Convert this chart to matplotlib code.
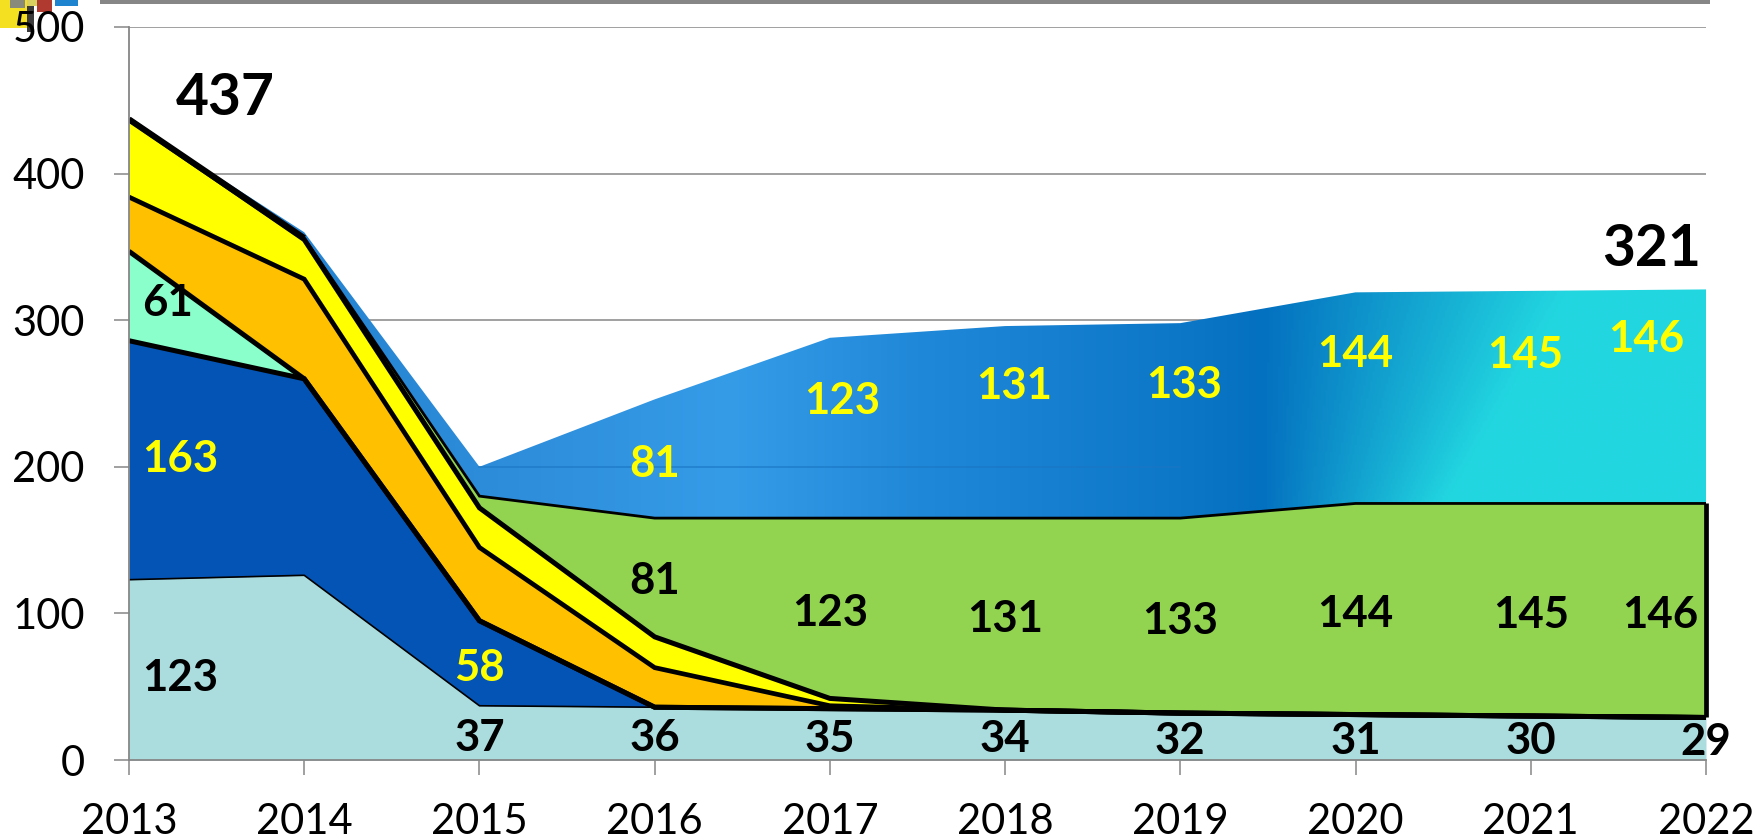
#!/usr/bin/env python3
"""Stacked area chart 2013-2022 with gradient top layer"""

import matplotlib
matplotlib.use('Agg')
import matplotlib.pyplot as plt
import matplotlib.patches as mpatches
from matplotlib.colors import LinearSegmentedColormap
import numpy as np

plt.rcParams['font.family'] = ['Lato', 'DejaVu Sans']

years = [2013, 2014, 2015, 2016, 2017, 2018, 2019, 2020, 2021, 2022]
teal = [123, 126, 37, 36, 35, 34, 32, 31, 30, 29]
navy = [163, 134, 58, 0, 0, 0, 0, 0, 0, 0]
mint = [61, 0, 0, 0, 0, 0, 0, 0, 0, 0]
orange = [37, 68, 50, 27, 2, 0, 0, 0, 0, 0]
yellow = [53, 27, 27, 21, 5, 0, 0, 0, 0, 0]
green = [0, 1, 8, 81, 123, 131, 133, 144, 145, 146]
blue = [0, 4, 20, 81, 123, 131, 133, 144, 145, 146]
total_first = 437
total_last = 321
y_ticks = [0, 100, 200, 300, 400, 500]

W, H = 1756, 840
GREY = '#868686'

fig = plt.figure(figsize=(W / 100, H / 100), dpi=100, facecolor='white')
ax = fig.add_axes([129 / W, (H - 760) / H, (1706 - 129) / W, (760 - 27) / H])
ax.set_xlim(years[0], years[-1])
ax.set_ylim(0, 500)

layers = np.array([teal, navy, mint, orange, yellow, green, blue], dtype=float)
tops = np.cumsum(layers, axis=0)

ax.set_yticks(y_ticks)
ax.set_xticks(years)
ax.grid(axis='y', color=GREY, linewidth=1.1, zorder=1)
ax.set_axisbelow(True)
for side in ['top', 'right']:
    ax.spines[side].set_visible(False)
for side in ['left', 'bottom']:
    ax.spines[side].set_color(GREY)
    ax.spines[side].set_linewidth(1.3)
    ax.spines[side].set_zorder(8)
ax.tick_params(axis='both', length=11, width=1.1, color=GREY, labelsize=30)
ax.tick_params(axis='y', pad=21)
ax.tick_params(axis='x', pad=20)

# flat filled layers
fills = ['#abdddf', '#0454b6', '#8affcb', '#ffc000', '#ffff00', '#92d350']
bottom = np.zeros(len(years))
for top, color in zip(tops[:6], fills):
    ax.fill_between(years, bottom, top, color=color, linewidth=0, zorder=2)
    bottom = top

# top layer has a gradient, image clipped to the layer outline
stops = [(0.00, '#1f7ccc'), (0.26, '#2f8fdc'), (0.38, '#359ce8'), (0.50, '#2088d8'),
         (0.66, '#0e78c8'), (0.72, '#0470c0'), (0.90, '#22d6e0'), (1.00, '#22d6e0')]
cmap = LinearSegmentedColormap.from_list('top_layer', stops)
xx, yy = np.meshgrid(np.linspace(0, 1, 700), np.linspace(0, 500, 300))
# cyan edge fans out to the right going up
cyan_edge = np.clip(0.835 + (yy - 175) / 145 * 0.078, 0.78, 0.95)
grad = np.where(xx > 0.72, 0.72 + (xx - 0.72) * 0.18 / (cyan_edge - 0.72), xx)
img = ax.imshow(np.clip(grad, 0, 1), cmap=cmap, vmin=0, vmax=1, extent=[years[0], years[-1], 0, 500],
                origin='lower', aspect='auto', zorder=2.5)
verts = list(zip(years, tops[5])) + list(zip(years[::-1], tops[6][::-1]))
outline = mpatches.Polygon(verts, closed=True, transform=ax.transData, facecolor='none', edgecolor='none')
ax.add_patch(outline)
img.set_clip_path(outline)

# gridline shows faintly through the gradient
ax.plot([years[2], years[6]], [y_ticks[2], y_ticks[2]], color='#1a76c4', linewidth=1.2, alpha=0.7, zorder=2.7)

# outlines
widths = [1.2, 3.6, 3.6, 3.4, 3.6, 2.0]
for top, lw in zip(tops[:6], widths):
    ax.plot(years, top, color='black', linewidth=lw, solid_joinstyle='miter', solid_capstyle='butt', zorder=4)
ax.plot(years[:2], tops[5][:2], color='black', linewidth=4.4, solid_capstyle='butt', zorder=4)
ax.vlines(years[-1], tops[0][-1], tops[5][-1], color='black', linewidth=3.4, zorder=4, clip_on=False)

label_font = dict(fontsize=31.5, fontweight='bold', ha='center', va='center', zorder=6)

# value labels: (value, x, y, colour)
teal_xy = [(2013.29, 56), (2015, 15), (2016, 15), (2017, 14), (2018, 14), (2019, 13), (2020, 13), (2021, 13), (2022, 12)]
for value, (x, y) in zip(teal[:1] + teal[2:], teal_xy):
    ax.text(x, y, str(value), color='black', clip_on=False, **label_font)
ax.text(2013.29, 205, str(navy[0]), color='#ffff00', **label_font)
ax.text(2015, 63, str(navy[2]), color='#ffff00', **label_font)
ax.text(2013.22, 312, str(mint[0]), color='black', **label_font)

green_xy = [(2016, 122), (2017, 100), (2018, 96), (2019, 95), (2020, 99.5), (2021, 99), (2021.74, 99)]
for value, (x, y) in zip(green[3:], green_xy):
    ax.text(x, y, str(value), color='black', **label_font)

blue_xy = [(2016, 202), (2017.07, 245), (2018.05, 255), (2019.02, 256), (2020, 277), (2020.97, 276), (2021.66, 287)]
for value, (x, y) in zip(blue[3:], blue_xy):
    ax.text(x, y, str(value), color='#ffff00', **label_font)

ax.text(2013.55, 451, str(total_first), color='black', fontsize=41, fontweight='bold', ha='center', va='center', zorder=6)
ax.text(2021.69, 348, str(total_last), color='black', fontsize=41, fontweight='bold', ha='center', va='center', zorder=6)

# top bar and the cut-off logo in the corner
def px_rect(x0, y0, x1, y1, color):
    fig.add_artist(mpatches.Rectangle((x0 / W, 1 - y1 / H), (x1 - x0) / W, (y1 - y0) / H,
                                      transform=fig.transFigure, facecolor=color, edgecolor='none', zorder=-1))

px_rect(100, 0, 1710, 4, GREY)
px_rect(0, 0, 27, 28, '#f4e020')
px_rect(10, 0, 25, 8, '#8a8a7a')
px_rect(27, 6, 34, 32, '#3a3a3a')
px_rect(27, 0, 37, 6, '#d8d060')
px_rect(37, 0, 52, 12, '#b03a30')
px_rect(55, 0, 78, 6, '#1f84d0')

fig.savefig('out.png', dpi=100)
